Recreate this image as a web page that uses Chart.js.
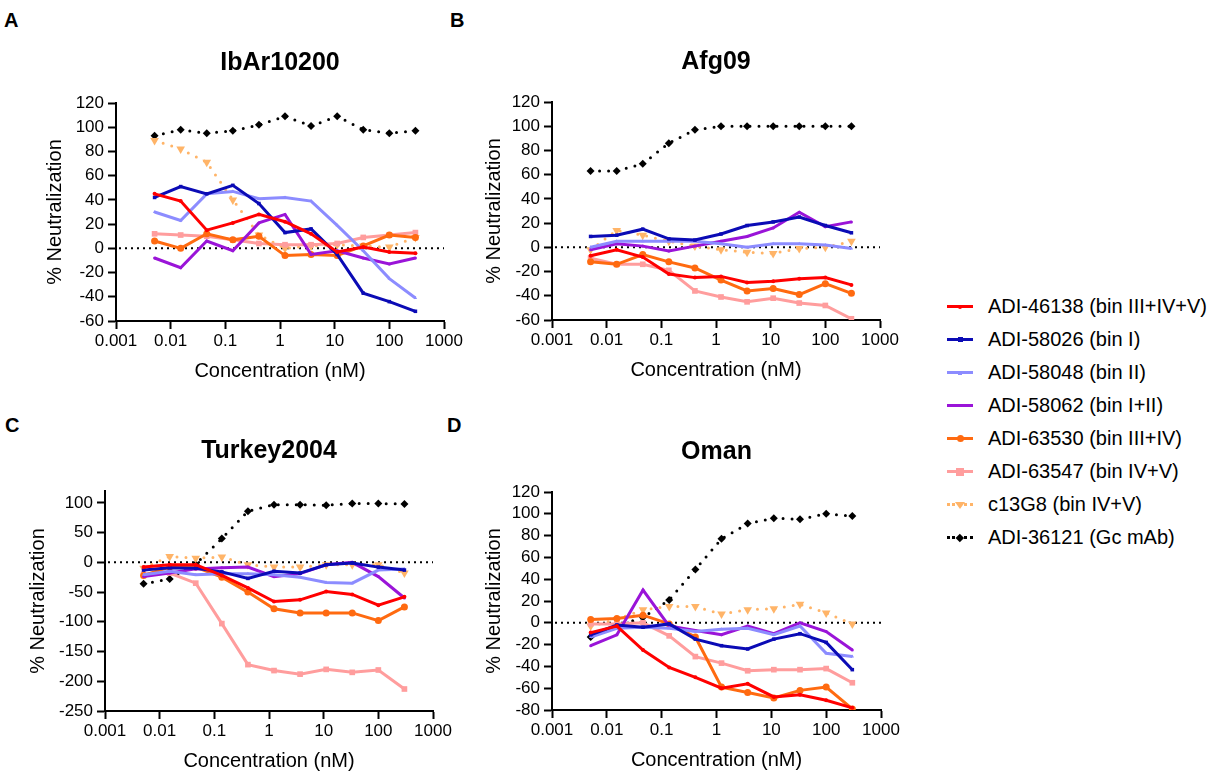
<!DOCTYPE html>
<html>
<head>
<meta charset="utf-8">
<script src="https://cdn.jsdelivr.net/npm/chart.js@4.4.1/dist/chart.umd.min.js"></script>
<style>
  body { margin: 0; background: #fff; width: 1228px; height: 778px; overflow: hidden; position: relative;
         font-family: Arial, "Liberation Sans", sans-serif; color: #000; }
  canvas { position: absolute; }
  .letter { position: absolute; font-weight: bold; font-size: 20px; line-height: 20px; }
  #legend { position: absolute; left: 947px; top: 290px; }
  .row { height: 33px; display: flex; align-items: center; font-size: 20px; white-space: nowrap; }
  .sym { position: relative; width: 26px; height: 14px; margin-right: 15px; flex: none; }
  .sym span { position: absolute; }
</style>
</head>
<body>
<div class="letter" style="left:4px;top:10px">A</div>
<div class="letter" style="left:450px;top:10px">B</div>
<div class="letter" style="left:5px;top:415px">C</div>
<div class="letter" style="left:447px;top:415px">D</div>
<div id="legend"></div>

<script>
// ─── data ───────────────────────────────────────────────
const conc = [0.00508, 0.01524, 0.04572, 0.1372, 0.4115, 1.235, 3.704, 11.11, 33.33, 100, 300];
const xTicks = [0.001, 0.01, 0.1, 1, 10, 100, 1000];

const antibodies = [
  "ADI-46138 (bin III+IV+V)",
  "ADI-58026 (bin I)",
  "ADI-58048 (bin II)",
  "ADI-58062 (bin I+II)",
  "ADI-63530 (bin III+IV)",
  "ADI-63547 (bin IV+V)",
  "c13G8 (bin IV+V)",
  "ADI-36121 (Gc mAb)"
];

// rows follow the antibody order above
const ibAr10200 = [
  [45, 39, 15, 21, 28, 22, 12, -3, 1, -3, -4],
  [42, 51, 45, 52, 37, 13, 16, -5, -37, -44, -52],
  [30, 23, 45, 47, 41, 42, 39, 19, -2, -25, -41],
  [-8, -16, 6, -2, 21, 28, -5, -2, -8, -13, -8],
  [6, 0, 12, 7, 10, -6, -5, -6, 2, 11, 9],
  [12, 11, 10, 7, 4, 3, 3, 4, 9, 11, 13],
  [89, 82, 71, 40, 11, 0, 2, 3, 2, 1, 9],
  [93, 98, 95, 97, 102, 109, 101, 109, 98, 95, 97]
];
const afg09 = [
  [-7, -2, -8, -22, -25, -24, -29, -28, -26, -25, -31],
  [9, 10, 15, 7, 6, 11, 18, 21, 25, 18, 12],
  [0, 5, 5, 5, 5, 3, 0, 3, 3, 2, -1],
  [-2, 3, 1, -3, 1, 5, 9, 16, 29, 17, 21],
  [-12, -14, -6, -12, -17, -27, -36, -34, -39, -30, -38],
  [-9, -14, -14, -19, -36, -41, -45, -42, -46, -48, -59],
  [-2, 14, 10, 5, 1, -2, -4, -5, -1, 0, 5],
  [63, 63, 69, 86, 97, 100, 100, 100, 100, 100, 100]
];
const turkey2004 = [
  [-8, -4, -4, -22, -43, -66, -63, -49, -54, -72, -58],
  [-13, -9, -10, -16, -27, -15, -18, -4, -1, -8, -13],
  [-21, -15, -21, -19, -19, -21, -25, -34, -35, -13, -11],
  [-24, -18, -11, -9, -8, -24, -19, -4, 0, -24, -60],
  [-22, -8, -8, -25, -50, -78, -85, -85, -85, -98, -75],
  [-20, -18, -35, -103, -172, -182, -188, -180, -185, -181, -213],
  [-10, 10, 7, 9, -4, -8, -8, -4, -4, -4, -18],
  [-36, -28, -3, 40, 86, 97, 97, 96, 99, 99, 98]
];
const oman = [
  [-9, -3, -25, -41, -50, -60, -56, -68, -66, -71, -78],
  [-11, -2, -4, -1, -15, -21, -24, -15, -10, -18, -43],
  [-13, -5, -4, -5, -8, -6, -5, -11, -3, -28, -31],
  [-21, -11, 30, -3, -7, -11, -3, -10, 0, -8, -25],
  [3, 4, 7, -1, -13, -59, -64, -69, -62, -59, -79],
  [-1, -1, 0, -12, -31, -37, -44, -43, -43, -42, -55],
  [-3, 3, 12, 15, 15, 8, 12, 13, 17, 9, -1],
  [-13, -3, 5, 21, 49, 77, 91, 96, 95, 100, 98]
];

const yTicks120 = [-60, -40, -20, 0, 20, 40, 60, 80, 100, 120];
const yTicksTurkey = [-250, -200, -150, -100, -50, 0, 50, 100];
const yTicksOman = [-80, -60, -40, -20, 0, 20, 40, 60, 80, 100, 120];

// ─── styles ─────────────────────────────────────────────
const colors  = ["#ff0000", "#0b0bb5", "#8c8cff", "#9a14d8", "#ff6a10", "#ff9d9d", "#ffb468", "#000000"];
const markers = ["circle", "rect", "triangle", "circle", "circle", "rect", "triangle", "rectRot"];
const radii   = [2, 2.5, 2, 1.5, 3.5, 4, 5, 4];
const dotted  = [false, false, false, false, false, false, true, true];

const FONT = 'Arial, "Liberation Sans", sans-serif';

const panels = [
  { title: "IbAr10200",  values: ibAr10200,  yt: yTicks120,    yMax: 120, L: 116, R: 444, T: 103, B: 321, yPad: 27 },
  { title: "Afg09",      values: afg09,      yt: yTicks120,    yMax: 120, L: 552, R: 880, T: 102, B: 320, yPad: 30 },
  { title: "Turkey2004", values: turkey2004, yt: yTicksTurkey, yMax: 120, L: 105, R: 433, T: 491, B: 711, yPad: 21 },
  { title: "Oman",       values: oman,       yt: yTicksOman,   yMax: 120, L: 552, R: 881, T: 492, B: 710, yPad: 30 }
];

// dotted zero line behind the curves
const zeroLine = {
  id: "zeroLine",
  beforeDatasetsDraw(chart) {
    const { ctx, chartArea, scales } = chart;
    const y = scales.y.getPixelForValue(0);
    ctx.save();
    ctx.strokeStyle = "#000";
    ctx.lineWidth = 2;
    ctx.setLineDash([2, 4]);
    ctx.beginPath();
    ctx.moveTo(chartArea.left + 3, y);
    ctx.lineTo(chartArea.right, y);
    ctx.stroke();
    ctx.restore();
  }
};

// panel title centred over the plot area
const panelTitle = {
  id: "panelTitle",
  afterDraw(chart, args, opts) {
    const { ctx, chartArea } = chart;
    ctx.save();
    ctx.fillStyle = "#000";
    ctx.font = "bold 25px " + FONT;
    ctx.textAlign = "center";
    ctx.textBaseline = "middle";
    ctx.fillText(opts.text, (chartArea.left + chartArea.right) / 2, chartArea.top - 40);
    ctx.restore();
  }
};

function axisGrid() {
  return { display: true, drawOnChartArea: false, drawTicks: true, tickLength: 8,
           tickWidth: 2, tickColor: "#000" };
}

function makePanel(p) {
  const w = p.R - p.L + 200, h = p.B - p.T + 155;
  const canvas = document.createElement("canvas");
  canvas.width = w; canvas.height = h;
  canvas.style.left = (p.L - 100) + "px";
  canvas.style.top = (p.T - 80) + "px";
  canvas.style.width = w + "px";
  canvas.style.height = h + "px";
  document.body.appendChild(canvas);

  const datasets = antibodies.map((name, i) => ({
    label: name,
    data: conc.map((c, j) => ({ x: c, y: p.values[i][j] })),
    borderColor: colors[i],
    backgroundColor: colors[i],
    borderWidth: 3,
    borderDash: dotted[i] ? [0, 9] : [],
    borderCapStyle: dotted[i] ? "round" : "butt",
    pointStyle: markers[i],
    pointRadius: radii[i],
    pointHoverRadius: radii[i],
    pointRotation: i === 6 ? 180 : 0,
    pointBorderWidth: 0,
    tension: 0
  }));

  new Chart(canvas, {
    type: "line",
    data: { datasets },
    options: {
      responsive: false,
      animation: false,
      devicePixelRatio: 1,
      layout: { padding: { left: 0, right: 100, top: 80, bottom: 0 } },
      plugins: {
        legend: { display: false },
        tooltip: { enabled: false },
        panelTitle: { text: p.title }
      },
      scales: {
        x: {
          type: "logarithmic", min: 0.001, max: 1000,
          afterBuildTicks: s => { s.ticks = xTicks.map(v => ({ value: v })); },
          afterFit: s => { s.height = 75; s.paddingLeft = 0; s.paddingRight = 0; },
          ticks: { color: "#000", font: { family: FONT, size: 17 }, padding: 2,
                   autoSkip: false, maxRotation: 0, callback: v => String(v) },
          grid: axisGrid(),
          border: { display: true, color: "#000", width: 2 },
          title: { display: true, text: "Concentration (nM)", color: "#000",
                   font: { family: FONT, size: 20 }, padding: { top: 0, bottom: 13 } }
        },
        y: {
          type: "linear", min: p.yt[0], max: p.yMax,
          afterBuildTicks: s => { s.ticks = p.yt.map(v => ({ value: v })); },
          afterFit: s => { s.width = 100; s.paddingTop = 0; s.paddingBottom = 0; },
          ticks: { color: "#000", font: { family: FONT, size: 17 }, padding: 4, autoSkip: false },
          grid: axisGrid(),
          border: { display: true, color: "#000", width: 2 },
          title: { display: true, text: "% Neutralization", color: "#000",
                   font: { family: FONT, size: 20 }, padding: { top: p.yPad, bottom: 0 } }
        }
      }
    },
    plugins: [zeroLine, panelTitle]
  });
}

panels.forEach(makePanel);

// ─── legend ─────────────────────────────────────────────
function legendSymbol(i) {
  const sym = document.createElement("span");
  sym.className = "sym";
  const ln = document.createElement("span");
  if (dotted[i]) {
    ln.style.cssText = `left:0;top:5px;width:26px;height:0;border-top:3px dotted ${colors[i]}`;
  } else {
    ln.style.cssText = `left:0;top:5.5px;width:26px;height:3px;background:${colors[i]}`;
  }
  sym.appendChild(ln);

  const r = radii[i];
  const m = document.createElement("span");
  if (markers[i] === "triangle" && i === 6) {
    m.style.cssText = `left:${13 - r}px;top:${7 - r * 0.6}px;width:0;height:0;` +
      `border-left:${r}px solid transparent;border-right:${r}px solid transparent;` +
      `border-top:${r * 1.5}px solid ${colors[i]}`;
  } else if (markers[i] === "rectRot") {
    const s = r * 1.4;
    m.style.cssText = `left:${13 - s / 2}px;top:${7 - s / 2}px;width:${s}px;height:${s}px;` +
      `background:${colors[i]};transform:rotate(45deg)`;
  } else {
    const s = r * 2;
    m.style.cssText = `left:${13 - s / 2}px;top:${7 - s / 2}px;width:${s}px;height:${s}px;` +
      `background:${colors[i]};border-radius:${markers[i] === "circle" ? "50%" : "0"}`;
  }
  sym.appendChild(m);
  return sym;
}

const legend = document.getElementById("legend");
antibodies.forEach((name, i) => {
  const row = document.createElement("div");
  row.className = "row";
  row.appendChild(legendSymbol(i));
  row.appendChild(document.createTextNode(name));
  legend.appendChild(row);
});
</script>
</body>
</html>
